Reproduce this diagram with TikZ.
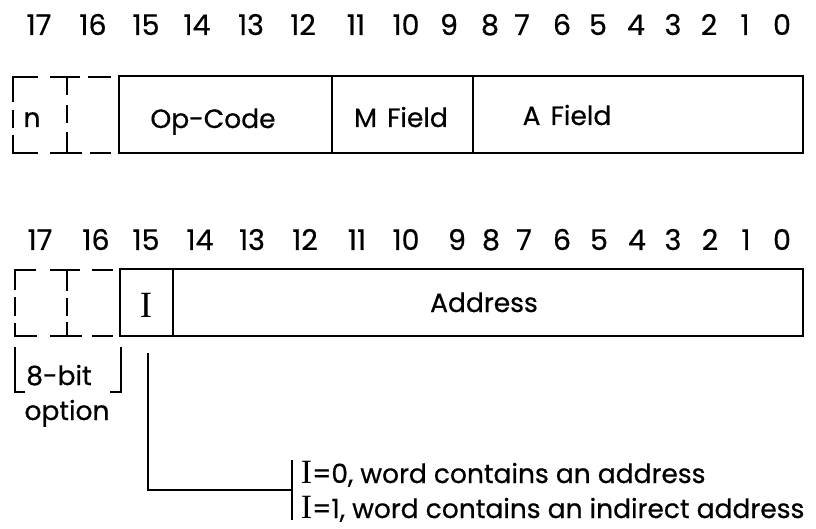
\documentclass[tikz,border=0pt]{standalone}
\usepackage{fontspec}
\setmainfont{Poppins}[FakeBold=0.6]
\newfontfamily\serifI{Liberation Serif}
\begin{document}
\begin{tikzpicture}[x=1pt,y=-1pt,line width=1.8pt,
  digit/.style={anchor=base,font=\fontsize{28.5}{28.5}\selectfont,inner sep=0pt},
  lbl/.style={anchor=base,font=\fontsize{26.5}{26.5}\selectfont,inner sep=0pt},
  note/.style={anchor=base west,font=\fontsize{26.5}{26.5}\selectfont,inner sep=0pt},
  bigI/.style={anchor=base,font=\serifI\fontsize{37}{37}\selectfont,inner sep=0pt}]
\useasboundingbox (0,0) rectangle (816,529);

% bit numbers, top row
\foreach \d/\x in {17/39,16/93,15/146,14/197,13/251,12/303,11/356,10/406,9/449,8/490,7/522,6/562,5/598,4/636,3/673,2/709,1/745,0/782}
  \node[digit] (ta\d) at (\x,35) {\d};
% bit numbers, bottom row
\foreach \d/\x in {17/40,16/96,15/146,14/200,13/252,12/305,11/357,10/406,9/457,8/491,7/524,6/562,5/599,4/637,3/673,2/710,1/746,0/782}
  \node[digit] (tb\d) at (\x,250) {\d};

% top word: dashed optional bits
\draw (13,102) -- (13,77) -- (38,77);
\draw (50,77) -- (80,77); \draw (67,77) -- (67,95);
\draw (88,77) -- (111,77);
\draw (13,110) -- (13,128);
\draw (13,135) -- (13,153) -- (38,153);
\draw (67,105) -- (67,123);
\draw (67,132) -- (67,153); \draw (50,153) -- (82,153);
\draw (90,153) -- (111,153);
% top word: solid fields
\draw (119,76) rectangle (803,153);
\draw (332,76) -- (332,153);
\draw (473,76) -- (473,153);
\node[lbl] (n) at (32,127) {n};
\node[lbl] (opcode) at (213,128) {Op-Code};
\node[lbl] (mfield) at (401,127) {M\hspace{3pt} Field};
\node[lbl] (afield) at (567,125) {A\hspace{3pt} Field};

% bottom word: dashed optional bits
\draw (15,290) -- (15,270) -- (36,270);
\draw (50,270) -- (80,270); \draw (67,270) -- (67,291);
\draw (92,270) -- (113,270);
\draw (15,297) -- (15,316);
\draw (15,323) -- (15,336) -- (37,336);
\draw (67,298) -- (67,316);
\draw (67,322) -- (67,336); \draw (50,336) -- (82,336);
\draw (92,336) -- (113,336);
% bottom word: solid fields
\draw (120,269) rectangle (803,336);
\draw (173,269) -- (173,336);
\node[bigI] (ibit) at (146,317) {I};
\node[lbl] (address) at (484,312) {Address};

% 8-bit option bracket
\draw (25,392) -- (15,392) -- (15,347);
\draw (110,392) -- (121,392) -- (121,347);
\node[lbl] (eightbit) at (59,385) {8-bit};
\node[lbl] (option) at (67,420) {option};

% indirect bit explanation
\coordinate (istart) at (148,353);
\coordinate (bar) at (291,490);
\coordinate (bartop) at (292,460);
\coordinate (barbot) at (292,520);
\draw (istart) |- (bar);
\draw (bartop) -- (barbot);
\node[note] (i0) at (300,483) {{\serifI\fontsize{34}{34}\selectfont I}=0, word contains an address};
\node[note] (i1) at (300,518) {{\serifI\fontsize{34}{34}\selectfont I}=1, word contains an indirect address};
\end{tikzpicture}
\end{document}
